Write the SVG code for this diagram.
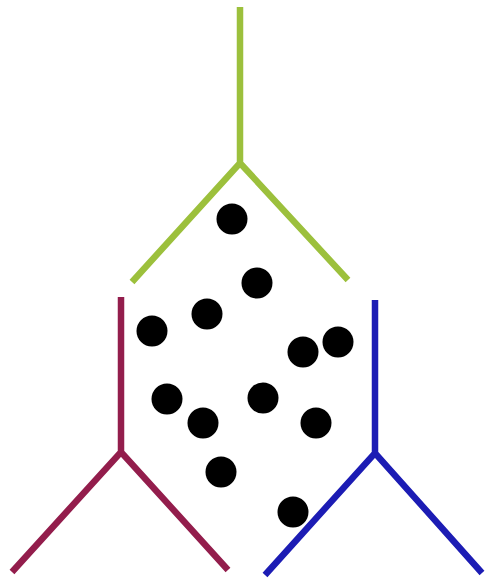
<svg xmlns="http://www.w3.org/2000/svg" width="485" height="584" viewBox="0 0 485 584">
<style>
.ln{fill:none;stroke-width:6.5;stroke-linecap:butt;stroke-linejoin:miter}
.g{stroke:#9cc03c}
.r{stroke:#931d4c}
.b{stroke:#1c1cb4}
.dot{fill:#000}
</style>
<rect width="485" height="584" fill="#fff"/>
<g id="connectors">
<path class="ln g" d="M240,7 L240,163 M132,282 L240,163 L348,280"/>
<path class="ln r" d="M121,297 L121,452 M12,572 L121,452 L228,570"/>
<path class="ln b" d="M375,300 L375,453 M265,575 L375,453 L482,573"/>
</g>
<g id="dots">
<circle class="dot" cx="232" cy="219" r="15.5"/>
<circle class="dot" cx="257" cy="283" r="15.5"/>
<circle class="dot" cx="207" cy="314" r="15.5"/>
<circle class="dot" cx="152" cy="331" r="15.5"/>
<circle class="dot" cx="303" cy="352" r="15.5"/>
<circle class="dot" cx="338" cy="342" r="15.5"/>
<circle class="dot" cx="167" cy="399" r="15.5"/>
<circle class="dot" cx="263" cy="398" r="15.5"/>
<circle class="dot" cx="203" cy="423" r="15.5"/>
<circle class="dot" cx="316" cy="423" r="15.5"/>
<circle class="dot" cx="221" cy="472" r="15.5"/>
<circle class="dot" cx="293" cy="512" r="15.5"/>
</g>
</svg>
